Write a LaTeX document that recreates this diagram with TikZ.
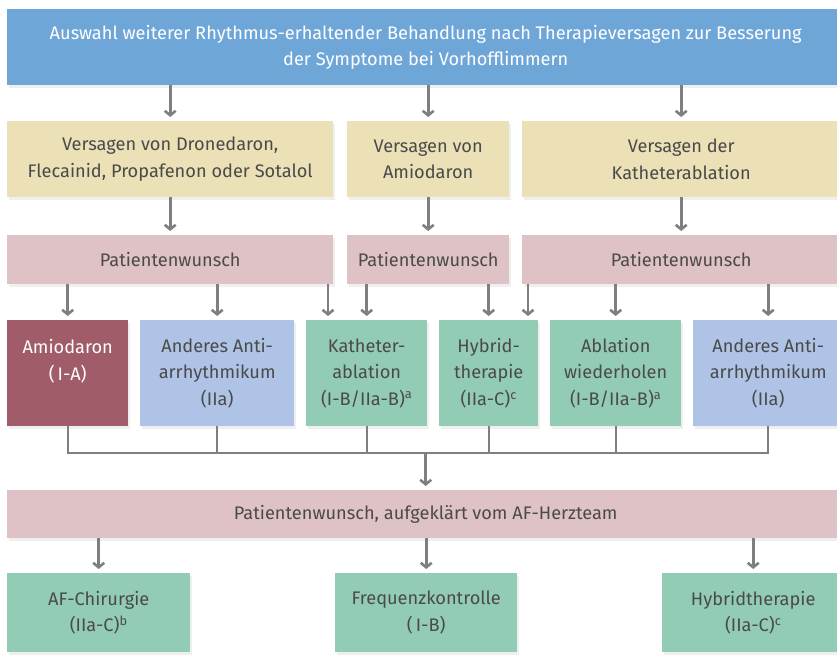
\documentclass[tikz,border=0pt]{standalone}
\usepackage{fontspec}
\setmainfont{Fira Sans}
\usetikzlibrary{arrows.meta,shadows,calc}
\definecolor{cblue}{HTML}{6FA6D8}
\definecolor{cyellow}{HTML}{EBE0B6}
\definecolor{cpink}{HTML}{DFC2C5}
\definecolor{cred}{HTML}{A05C69}
\definecolor{clblue}{HTML}{AEC3E6}
\definecolor{cgreen}{HTML}{92CCB5}
\definecolor{cgray}{HTML}{7F7F80}
\definecolor{ctext}{HTML}{4A4A4A}
\tikzset{
  box/.style={rectangle, inner sep=0pt, align=center, text=ctext, anchor=north west,
    drop shadow={shadow xshift=1.5pt, shadow yshift=-2.5pt, opacity=0.12}},
  yel/.style={box, fill=cyellow, minimum height=76pt},
  pnk/.style={box, fill=cpink, minimum height=49pt},
  opt/.style={box, minimum height=106pt},
  fin/.style={box, fill=cgreen, minimum height=79pt},
  arr/.style={draw=cgray, line width=2.6pt, shorten >=4pt,
    -{Straight Barb[length=4.5pt,width=11pt]}},
  bus/.style={draw=cgray, line width=2.4pt}
}
\begin{document}
\begin{tikzpicture}[x=1pt,y=-1pt, font=\fontsize{18.2}{26.5}\selectfont]
\clip (0,0) rectangle (837,655);
\fill[white] (0,0) rectangle (837,655);
% top
\node[box, fill=cblue, text=white, minimum width=837pt, minimum height=76pt] (top) at (7,9)
  {Auswahl weiterer Rhythmus-erhaltender Behandlung nach Therapieversagen zur Besserung\\der Symptome bei Vorhofflimmern};
% row 2
\node[yel, minimum width=326pt] (Y1) at (7,121) {Versagen von Dronedaron,\\Flecainid, Propafenon oder Sotalol};
\node[yel, minimum width=162pt] (Y2) at (347,121) {Versagen von\\Amiodaron};
\node[yel, minimum width=318pt] (Y3) at (522,121) {Versagen der\\Katheterablation};
% row pink
\node[pnk, minimum width=326pt] (P1) at (7,235) {Patientenwunsch};
\node[pnk, minimum width=162pt] (P2) at (347,235) {Patientenwunsch};
\node[pnk, minimum width=318pt] (P3) at (522,235) {Patientenwunsch};
% options
\node[opt, fill=cred, text=white, minimum width=121pt] (Amio) at (7,320) {Amiodaron\\(\,I-A)\\\mbox{}};
\node[opt, fill=clblue, minimum width=154pt] (And1) at (140,320) {Anderes Anti-\\arrhythmikum\\(IIa)};
\node[opt, fill=cgreen, minimum width=121pt] (Kath) at (306,320) {Katheter-\\ablation\\(I-B/IIa-B)\textsuperscript{a}};
\node[opt, fill=cgreen, minimum width=99pt] (Hyb) at (439,320) {Hybrid-\\therapie\\(IIa-C)\textsuperscript{c}};
\node[opt, fill=cgreen, minimum width=131pt] (Abl) at (550,320) {Ablation\\wiederholen\\(I-B/IIa-B)\textsuperscript{a}};
\node[opt, fill=clblue, minimum width=150pt] (And2) at (693,320) {Anderes Anti-\\arrhythmikum\\(IIa)};
% heart team
\node[box, fill=cpink, minimum width=837pt, minimum height=48pt] (P4) at (7,490) {Patientenwunsch, aufgeklärt vom AF-Herzteam};
% final
\node[fin, minimum width=183pt] (AF) at (7,573) {AF-Chirurgie\\(IIa-C)\textsuperscript{b}};
\node[fin, minimum width=182pt] (Freq) at (335,573) {Frequenzkontrolle\\(\,I-B)};
\node[fin, minimum width=182pt] (HybB) at (662,573) {Hybridtherapie\\(IIa-C)\textsuperscript{c}};
% arrows top -> yellow
\foreach \n in {Y1,Y2,Y3} \draw[arr] (\n.north |- top.south) -- (\n.north);
% yellow -> pink
\draw[arr] (Y1.south) -- (P1.north);
\draw[arr] (Y2.south) -- (P2.north);
\draw[arr] (Y3.south) -- (P3.north);
% pink -> options
\coordinate (k1) at (328,0);
\coordinate (h1) at (528,0);
\draw[arr] (Amio.north |- P1.south) -- (Amio.north);
\draw[arr] (And1.north |- P1.south) -- (And1.north);
\draw[arr] (k1 |- P1.south) -- (k1 |- Kath.north);
\draw[arr] (Kath.north |- P2.south) -- (Kath.north);
\draw[arr] (Hyb.north |- P2.south) -- (Hyb.north);
\draw[arr] (h1 |- P3.south) -- (h1 |- Hyb.north);
\draw[arr] (Abl.north |- P3.south) -- (Abl.north);
\draw[arr] (And2.north |- P3.south) -- (And2.north);
% bus
\coordinate (busy) at (0,453);
\foreach \n in {Amio,And1,Kath,Hyb,Abl,And2} \draw[bus] (\n.south) -- (\n.south |- busy);
\draw[bus, line cap=rect] (Amio.south |- busy) -- (And2.south |- busy);
\draw[arr] (P4.north |- busy) -- (P4.north);
% final arrows
\foreach \n in {AF,Freq,HybB} \draw[arr] (\n.north |- P4.south) -- (\n.north);
\end{tikzpicture}
\end{document}
